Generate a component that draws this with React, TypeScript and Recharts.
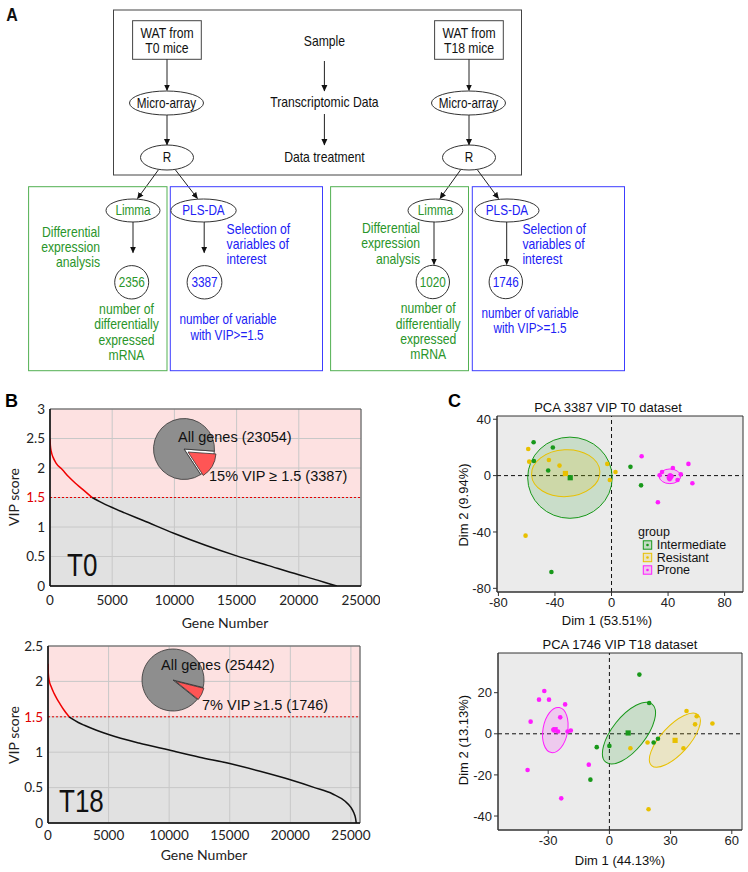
import React from "react"
import {
  LineChart, Line, XAxis, YAxis, CartesianGrid, ReferenceLine, ReferenceArea,
  PieChart, Pie, Cell, ScatterChart, Scatter,
} from "recharts"

// ---------- panel B : VIP score curves ----------
const geneTicks = [0, 5000, 10000, 15000, 20000, 25000]
const vipTicksT0 = [0, 0.5, 1, 1.5, 2, 2.5, 3]
const vipTicksT18 = [0, 0.5, 1, 1.5, 2, 2.5]

const t0Selected = [
  { gene: 0, vip: 2.5 }, { gene: 30, vip: 2.38 }, { gene: 100, vip: 2.28 }, { gene: 250, vip: 2.18 },
  { gene: 500, vip: 2.08 }, { gene: 1000, vip: 1.97 }, { gene: 1500, vip: 1.85 }, { gene: 2000, vip: 1.75 },
  { gene: 2500, vip: 1.66 }, { gene: 3000, vip: 1.57 }, { gene: 3387, vip: 1.5 },
]
const t0Rest = [
  { gene: 3387, vip: 1.5 }, { gene: 4000, vip: 1.43 }, { gene: 5000, vip: 1.33 }, { gene: 6000, vip: 1.24 },
  { gene: 7500, vip: 1.11 }, { gene: 10000, vip: 0.89 }, { gene: 12500, vip: 0.69 }, { gene: 15000, vip: 0.51 },
  { gene: 17500, vip: 0.35 }, { gene: 20000, vip: 0.19 }, { gene: 21500, vip: 0.1 }, { gene: 22500, vip: 0.035 },
  { gene: 23054, vip: 0 },
]
const t18Selected = [
  { gene: 0, vip: 2.25 }, { gene: 30, vip: 2.1 }, { gene: 100, vip: 2.01 }, { gene: 250, vip: 1.93 },
  { gene: 500, vip: 1.83 }, { gene: 750, vip: 1.75 }, { gene: 1000, vip: 1.68 }, { gene: 1300, vip: 1.6 },
  { gene: 1746, vip: 1.5 },
]
const t18Rest = [
  { gene: 1746, vip: 1.5 }, { gene: 2000, vip: 1.47 }, { gene: 2500, vip: 1.42 }, { gene: 3000, vip: 1.38 },
  { gene: 4000, vip: 1.31 }, { gene: 5000, vip: 1.25 }, { gene: 7500, vip: 1.13 }, { gene: 10000, vip: 1.03 },
  { gene: 12500, vip: 0.93 }, { gene: 15000, vip: 0.84 }, { gene: 17500, vip: 0.73 }, { gene: 20000, vip: 0.61 },
  { gene: 22000, vip: 0.5 }, { gene: 23500, vip: 0.41 }, { gene: 24500, vip: 0.31 }, { gene: 25000, vip: 0.22 },
  { gene: 25250, vip: 0.14 }, { gene: 25380, vip: 0.07 }, { gene: 25442, vip: 0 },
]
const pieT0 = [{ name: "VIP ≥ 1.5", value: 3387 }, { name: "other", value: 19667 }]
const pieT18 = [{ name: "VIP ≥ 1.5", value: 1746 }, { name: "other", value: 23696 }]

// ---------- panel C : PCA individuals ----------
const groups = ["Intermediate", "Resistant", "Prone"]

const intermediateT0 = [
  { x: -55.1, y: 23.7 }, { x: -41.5, y: 19.9 }, { x: -54.9, y: 10.4 }, { x: -44.8, y: 3.6 },
  { x: 13.4, y: 6.2 }, { x: 20.9, y: -6.9 }, { x: -42.5, y: -68.4 },
]
const resistantT0 = [
  { x: -58.9, y: 18.9 }, { x: -58.2, y: 9.9 }, { x: -44.3, y: 11.1 }, { x: -36.8, y: 7.1 },
  { x: -3.0, y: 8.3 }, { x: 2.8, y: 2.6 }, { x: -1.2, y: -3.1 }, { x: -60.8, y: -42.6 },
]
const proneT0 = [
  { x: 21.3, y: 13.7 }, { x: 54.4, y: 8.3 }, { x: 43.4, y: 5.4 }, { x: 35.7, y: 2.6 }, { x: 34.0, y: 0.2 },
  { x: 41.5, y: 0.2 }, { x: 49.0, y: 0.9 }, { x: 46.7, y: -3.1 }, { x: 41.1, y: -2.6 }, { x: 57.2, y: -5.4 },
  { x: 32.8, y: -18.9 }, { x: 40.5, y: -1.5 }, { x: 42.5, y: -0.5 },
]
const meansT0 = [{ x: -29.2, y: -1.5 }, { x: -32.6, y: 1.5 }, { x: 41.5, y: -0.8 }]
const ellipsesT0 = [
  { x: -29.4, y: -1.5, a: 29.9, b: 28.8, angle: 0 },
  { x: -32.4, y: 1.7, a: 24.2, b: 16.6, angle: 3 },
  { x: 41.3, y: -0.5, a: 7.6, b: 5.2, angle: 0 },
]

const intermediateT18 = [
  { x: 14.7, y: 28.8 }, { x: 19.5, y: 15.0 }, { x: -6.2, y: -6.5 }, { x: 0, y: -5.9 },
  { x: -9.3, y: -22.3 }, { x: 21.7, y: -4.2 }, { x: 23.8, y: -2.4 },
]
const resistantT18 = [
  { x: 37.8, y: 11.1 }, { x: 42.8, y: 8.5 }, { x: 42.0, y: 4.6 }, { x: 50.5, y: 5.0 },
  { x: 36.3, y: -7.0 }, { x: 10.3, y: -7.0 }, { x: 18.7, y: -4.2 }, { x: 19.2, y: -36.7 },
]
const proneT18 = [
  { x: -31.9, y: 20.8 }, { x: -34.5, y: 16.6 }, { x: -29.6, y: 16.6 }, { x: -21.7, y: 14.3 },
  { x: -38.6, y: 5.9 }, { x: -24.1, y: 8.0 }, { x: -27.5, y: 2.0 }, { x: -26.9, y: 1.6 },
  { x: -25.2, y: 1.1 }, { x: -20.5, y: 1.1 }, { x: -18.9, y: 1.6 }, { x: -40.1, y: -17.6 },
  { x: -10.1, y: -15.0 }, { x: -23.6, y: -31.4 },
]
const meansT18 = [{ x: 9.2, y: 0.4 }, { x: 32.2, y: -3.2 }, { x: -26.6, y: 2.0 }]
const ellipsesT18 = [
  { x: 9.6, y: 0.3, a: 18.2, b: 8.1, angle: 51.5 },
  { x: 32.1, y: -3.1, a: 16.9, b: 6.8, angle: 47.4 },
  { x: -26.5, y: 1.8, a: 11.2, b: 6.0, angle: 80 },
]

const pcaT0 = { x: [-80, -40, 0, 40, 80], y: [-80, -40, 0, 40] }
const pcaT18 = { x: [-30, 0, 30, 60], y: [-40, -20, 0, 20] }

// ---------- styles ----------
const ARIAL = "'Liberation Sans', Arial, sans-serif"
const LATO = "Lato, 'Open Sans', sans-serif"
const PINK = "#fde1e1"
const GREYBG = "#e1e1e1"
const GROUP_COLORS = ["#18981a", "#e8c000", "#ff1cff"]
const GREEN_T = "#2a952a"
const GREEN_B = "#52b052"
const BLUE_T = "#2020f5"
const BLUE_B = "#3c3cff"

// narrow text (Arial Narrow look)
function NT({ x, y, children, anchor = "middle", color = "#111", size = 14.5, bold = false }: any) {
  return (
    <text transform={`translate(${x},${y}) scale(0.84,1)`} textAnchor={anchor} dominantBaseline="central"
      fontFamily={ARIAL} fontSize={size} fontWeight={bold ? 700 : 400} fill={color}>{children}</text>
  )
}
function Arrow({ x1, y1, x2, y2 }: any) {
  return <line x1={x1} y1={y1} x2={x2} y2={y2} stroke="#222" strokeWidth={1} markerEnd="url(#ah)" />
}
function Oval({ cx, cy, rx, ry, label, color }: any) {
  return (
    <g>
      <ellipse cx={cx} cy={cy} rx={rx} ry={ry} fill="#fff" stroke="#333" strokeWidth={1} />
      <NT x={cx} y={cy} color={color} size={14}>{label}</NT>
    </g>
  )
}

function PanelA() {
  return (
    <g>
      <defs>
        <marker id="ah" markerWidth="7" markerHeight="7" refX="6" refY="3.5" orient="auto" markerUnits="userSpaceOnUse">
          <path d="M0,0.5 L6.5,3.5 L0,6.5 z" fill="#111" />
        </marker>
      </defs>
      <NT x={12} y={15} size={19} bold>A</NT>
      <rect x={113.5} y={10} width={408} height={165} fill="none" stroke="#444" />
      <rect x={132.6} y={20.7} width={68.7} height={38.6} fill="#fff" stroke="#444" />
      <NT x={167} y={33}>WAT from</NT>
      <NT x={167} y={48}>T0 mice</NT>
      <rect x={434.6} y={20.7} width={68.7} height={38.6} fill="#fff" stroke="#444" />
      <NT x={469} y={33}>WAT from</NT>
      <NT x={469} y={48}>T18 mice</NT>
      <NT x={324.4} y={40.7}>Sample</NT>
      <NT x={324.4} y={101.7}>Transcriptomic Data</NT>
      <NT x={324.4} y={157.3}>Data treatment</NT>
      <Arrow x1={324.4} y1={61} x2={324.4} y2={91} />
      <Arrow x1={324.4} y1={114} x2={324.4} y2={145} />
      {[167, 469].map((cx) => (
        <g key={cx}>
          <Arrow x1={cx} y1={59.3} x2={cx} y2={90.5} />
          <Oval cx={cx - 0.5} cy={103} rx={37} ry={12} label="Micro-array" color="#111" />
          <Arrow x1={cx} y1={115} x2={cx} y2={145} />
          <Oval cx={cx} cy={157.5} rx={26.5} ry={12.5} label="R" color="#111" />
        </g>
      ))}
      <Arrow x1={158.3} y1={170} x2={137.5} y2={198.5} />
      <Arrow x1={175.5} y1={170} x2={197.5} y2={198.5} />
      <Arrow x1={460.5} y1={170} x2={440} y2={198.5} />
      <Arrow x1={477.5} y1={170} x2={498.5} y2={198.5} />

      <rect x={28.6} y={186.7} width={138.4} height={184} fill="none" stroke={GREEN_B} />
      <rect x={170.3} y={186.7} width={152.2} height={184} fill="none" stroke={BLUE_B} />
      <rect x={330.6} y={186.7} width={137.9} height={184} fill="none" stroke={GREEN_B} />
      <rect x={472.3} y={186.7} width={152.2} height={184} fill="none" stroke={BLUE_B} />

      <Oval cx={133} cy={210.5} rx={27} ry={11.5} label="Limma" color={GREEN_T} />
      <Oval cx={203.5} cy={210.5} rx={32.7} ry={11.5} label="PLS-DA" color={BLUE_T} />
      <Oval cx={435.4} cy={210.5} rx={27.4} ry={11.5} label="Limma" color={GREEN_T} />
      <Oval cx={507} cy={210.5} rx={32} ry={11.5} label="PLS-DA" color={BLUE_T} />

      <Arrow x1={133} y1={222} x2={133} y2={252.7} />
      <Arrow x1={204.2} y1={222} x2={204.2} y2={252.7} />
      <Arrow x1={434} y1={222} x2={434} y2={264.5} />
      <Arrow x1={506.7} y1={222} x2={506.7} y2={264.5} />

      <Oval cx={131.7} cy={282.3} rx={17} ry={16.7} label="2356" color={GREEN_T} />
      <Oval cx={204.5} cy={282.3} rx={17.4} ry={16.7} label="3387" color={BLUE_T} />
      <Oval cx={432.8} cy={282} rx={16.7} ry={16.7} label="1020" color={GREEN_T} />
      <Oval cx={505.8} cy={282} rx={16.7} ry={16.7} label="1746" color={BLUE_T} />

      {[["Differential", 232], ["expression", 247], ["analysis", 262]].map(([t, y]) => (
        <NT key={"l" + t} x={100} y={y} anchor="end" color={GREEN_T}>{t}</NT>
      ))}
      {[["Differential", 228], ["expression", 243.3], ["analysis", 258.7]].map(([t, y]) => (
        <NT key={"r" + t} x={420} y={y} anchor="end" color={GREEN_T}>{t}</NT>
      ))}
      {[["Selection of", 229.3], ["variables of", 244.3], ["interest", 259.3]].map(([t, y]) => (
        <g key={"s" + t}>
          <NT x={226.6} y={y} anchor="start" color={BLUE_T}>{t}</NT>
          <NT x={522.4} y={y} anchor="start" color={BLUE_T}>{t}</NT>
        </g>
      ))}
      {[["number of", 309], ["differentially", 324.6], ["expressed", 340], ["mRNA", 355]].map(([t, y]: any) => (
        <g key={"n" + t}>
          <NT x={126.5} y={y} color={GREEN_T}>{t}</NT>
          <NT x={428.2} y={y - 0.7} color={GREEN_T}>{t}</NT>
        </g>
      ))}
      <NT x={228} y={319} color={BLUE_T} size={14}>number of variable</NT>
      <NT x={227} y={335} color={BLUE_T} size={14}>{"with VIP>=1.5"}</NT>
      <NT x={530} y={313} color={BLUE_T} size={14}>number of variable</NT>
      <NT x={530} y={328} color={BLUE_T} size={14}>{"with VIP>=1.5"}</NT>
    </g>
  )
}

function VipTick(props: any) {
  const { x, y, payload } = props
  return (
    <text x={x} y={y} dy="0.35em" textAnchor="end" fontSize={13.5} fontFamily={LATO}
      fill={payload.value === 1.5 ? "#e00000" : "#222"}>{payload.value}</text>
  )
}

function VipChart({ selected, rest, yTicks, xMax, width, height, margin, yWidth, xHeight, xTickMargin }: any) {
  const yMax = yTicks[yTicks.length - 1]
  const stripes = yTicks.slice().reverse().map((t: number) => (t > 1.5 ? PINK : GREYBG))
  return (
    <LineChart width={width} height={height} margin={margin}>
      <CartesianGrid stroke="#c8c8c8" horizontalFill={stripes} fillOpacity={1} />
      <XAxis type="number" dataKey="gene" domain={[0, xMax]} ticks={geneTicks} interval={0} allowDataOverflow
        tickSize={0} tickMargin={xTickMargin} height={xHeight} axisLine={{ stroke: "#111", strokeWidth: 1.3 }}
        tick={{ fontSize: 13.5, fontFamily: LATO, fill: "#222" }} />
      <YAxis type="number" domain={[0, yMax]} ticks={yTicks} interval={0} allowDataOverflow width={yWidth}
        tickSize={0} tickMargin={5} axisLine={{ stroke: "#111", strokeWidth: 1.5 }} tick={<VipTick />} />
      <ReferenceArea x1={0} x2={xMax} y1={0} y2={yMax} fill="none" stroke="#555" strokeWidth={1} />
      <ReferenceLine y={1.5} stroke="#e60000" strokeDasharray="2 2" strokeWidth={1} />
      <Line data={rest} dataKey="vip" type="monotone" stroke="#111" strokeWidth={1.5} dot={false} isAnimationActive={false} />
      <Line data={selected} dataKey="vip" type="monotone" stroke="#f00000" strokeWidth={1.5} dot={false} isAnimationActive={false} />
    </LineChart>
  )
}

function VipPie({ data, left, top, start, dx, dy, rOuter, rRed }: any) {
  return (
    <div style={{ position: "absolute", left, top }}>
      <PieChart width={80} height={80} margin={{ top: 0, right: 0, bottom: 0, left: 0 }}>
        <Pie data={data} dataKey="value" cx={40} cy={40} outerRadius={rOuter} startAngle={start} endAngle={start - 360}
          isAnimationActive={false} label={false} labelLine={false} stroke="#333" strokeWidth={0.8}>
          <Cell fill="#ffffff" />
          <Cell fill="#8e8e8e" />
        </Pie>
        <Pie data={data} dataKey="value" cx={40 + dx} cy={40 + dy} outerRadius={rRed} startAngle={start} endAngle={start - 360}
          isAnimationActive={false} label={false} labelLine={false} strokeWidth={0.8}>
          <Cell fill="#ff5555" stroke="#333" />
          <Cell fill="none" stroke="none" />
        </Pie>
      </PieChart>
    </div>
  )
}

function ellipseShape(color: string, px: number, py: number) {
  return (props: any) => {
    const { cx, cy, payload } = props
    return (
      <ellipse cx={cx} cy={cy} rx={payload.a * px} ry={payload.b * py}
        transform={`rotate(${-payload.angle} ${cx} ${cy})`}
        fill={color} fillOpacity={0.16} stroke={color} strokeWidth={1} />
    )
  }
}
function dotShape(color: string) {
  return (props: any) => <circle cx={props.cx} cy={props.cy} r={2.3} fill={color} />
}
function squareShape(color: string) {
  return (props: any) => <rect x={props.cx - 2.6} y={props.cy - 2.6} width={5.2} height={5.2} fill={color} />
}

function PcaChart({ series, means, ellipses, ticks, xDomain, yDomain, width, height, margin, yWidth, xHeight }: any) {
  const plotW = width - margin.left - margin.right - yWidth
  const plotH = height - margin.top - margin.bottom - xHeight
  const px = plotW / (xDomain[1] - xDomain[0])
  const py = plotH / (yDomain[1] - yDomain[0])
  const tick = { fontSize: 13, fontFamily: ARIAL, fill: "#222" }
  return (
    <ScatterChart width={width} height={height} margin={margin}>
      <CartesianGrid fill="#ebebeb" horizontal={false} vertical={false} />
      <XAxis type="number" dataKey="x" domain={xDomain} ticks={ticks.x} interval={0} allowDataOverflow height={xHeight}
        tickSize={4} tickMargin={2} tick={tick} axisLine={{ stroke: "#333" }} tickLine={{ stroke: "#333" }} />
      <YAxis type="number" dataKey="y" domain={yDomain} ticks={ticks.y} interval={0} allowDataOverflow width={yWidth}
        tickSize={4} tickMargin={2} tick={tick} axisLine={{ stroke: "#333" }} tickLine={{ stroke: "#333" }} />
      <ReferenceArea x1={xDomain[0]} x2={xDomain[1]} y1={yDomain[0]} y2={yDomain[1]} fill="none" stroke="#333" />
      {ellipses.map((e: any, i: number) => (
        <Scatter key={"e" + i} data={[e]} shape={ellipseShape(GROUP_COLORS[i], px, py)} isAnimationActive={false} />
      ))}
      <ReferenceLine x={0} stroke="#111" strokeDasharray="4 3" />
      <ReferenceLine y={0} stroke="#111" strokeDasharray="4 3" />
      {series.map((s: any, i: number) => (
        <Scatter key={"s" + i} name={groups[i]} data={s} shape={dotShape(GROUP_COLORS[i])} isAnimationActive={false} />
      ))}
      {means.map((m: any, i: number) => (
        <Scatter key={"m" + i} data={[m]} shape={squareShape(GROUP_COLORS[i])} isAnimationActive={false} />
      ))}
    </ScatterChart>
  )
}

export default function App() {
  return (
    <div style={{ position: "absolute", left: 0, top: 0, width: 748, height: 872, background: "#fff", overflow: "hidden" }}>
      <div style={{ position: "absolute", left: 0, top: 390 }}>
        <VipChart selected={t0Selected} rest={t0Rest} yTicks={vipTicksT0} xMax={25000} width={380} height={250}
          margin={{ top: 19, right: 19, bottom: 10, left: 0 }} yWidth={50} xHeight={44} xTickMargin={9} />
      </div>
      <div style={{ position: "absolute", left: 0, top: 630 }}>
        <VipChart selected={t18Selected} rest={t18Rest} yTicks={vipTicksT18} xMax={25750} width={380} height={242}
          margin={{ top: 16, right: 20, bottom: 10, left: 0 }} yWidth={48} xHeight={39} xTickMargin={7} />
      </div>
      <VipPie data={pieT0} left={144} top={409} start={-4} dx={4} dy={3} rOuter={30.5} rRed={28} />
      <VipPie data={pieT18} left={132.5} top={640} start={-14} dx={2.7} dy={1.3} rOuter={31} rRed={29} />

      <div style={{ position: "absolute", left: 380, top: 390 }}>
        <PcaChart series={[intermediateT0, resistantT0, proneT0]} means={meansT0} ellipses={ellipsesT0} ticks={pcaT0}
          xDomain={[-81, 93]} yDomain={[-82.6, 42.3]} width={368} height={240}
          margin={{ top: 26, right: 5, bottom: 8, left: 0 }} yWidth={117} xHeight={30} />
      </div>
      <div style={{ position: "absolute", left: 380, top: 630 }}>
        <PcaChart series={[intermediateT18, resistantT18, proneT18]} means={meansT18} ellipses={ellipsesT18} ticks={pcaT18}
          xDomain={[-54.6, 65]} yDomain={[-46.8, 39.3]} width={368} height={242}
          margin={{ top: 23, right: 6, bottom: 10, left: 0 }} yWidth={118} xHeight={32} />
      </div>

      <svg width={748} height={872} style={{ position: "absolute", left: 0, top: 0, pointerEvents: "none" }}>
        <PanelA />
        {/* panel B texts */}
        <text x={5} y={401} dominantBaseline="central" fontFamily={ARIAL} fontSize={18} fontWeight={700}>B</text>
        <text x={448} y={401} dominantBaseline="central" fontFamily={ARIAL} fontSize={18} fontWeight={700}>C</text>
        <text transform="translate(13,497) rotate(-90)" textAnchor="middle" dominantBaseline="central" fontFamily={LATO} fontSize={14} fill="#222">VIP score</text>
        <text transform="translate(13,735) rotate(-90)" textAnchor="middle" dominantBaseline="central" fontFamily={LATO} fontSize={14} fill="#222">VIP score</text>
        <text x={225} y={622} textAnchor="middle" dominantBaseline="central" fontFamily={LATO} fontSize={14} fill="#222">Gene Number</text>
        <text x={204} y={854} textAnchor="middle" dominantBaseline="central" fontFamily={LATO} fontSize={14} fill="#222">Gene Number</text>
        <NT x={67} y={565} anchor="start" size={31}>T0</NT>
        <NT x={59} y={801} anchor="start" size={31}>T18</NT>
        <text x={178} y={437} dominantBaseline="central" fontFamily={ARIAL} fontSize={14.5} fill="#111">All genes (23054)</text>
        <text x={209} y={476} dominantBaseline="central" fontFamily={ARIAL} fontSize={14.5} fill="#111">15% VIP ≥ 1.5 (3387)</text>
        <text x={161} y={665} dominantBaseline="central" fontFamily={ARIAL} fontSize={14.5} fill="#111">All genes (25442)</text>
        <text x={202} y={705} dominantBaseline="central" fontFamily={ARIAL} fontSize={14.5} fill="#111">7% VIP ≥1.5 (1746)</text>
        {/* panel C texts */}
        <text x={608} y={407} textAnchor="middle" dominantBaseline="central" fontFamily={ARIAL} fontSize={13} fill="#111">PCA 3387 VIP T0 dataset</text>
        <text x={607} y={620} textAnchor="middle" dominantBaseline="central" fontFamily={ARIAL} fontSize={13} fill="#111">Dim 1 (53.51%)</text>
        <text transform="translate(463,505) rotate(-90)" textAnchor="middle" dominantBaseline="central" fontFamily={ARIAL} fontSize={13} fill="#111">Dim 2 (9.94%)</text>
        <text x={620} y={644} textAnchor="middle" dominantBaseline="central" fontFamily={ARIAL} fontSize={13} fill="#111">PCA 1746 VIP T18 dataset</text>
        <text x={620} y={860} textAnchor="middle" dominantBaseline="central" fontFamily={ARIAL} fontSize={13} fill="#111">Dim 1 (44.13%)</text>
        <text transform="translate(463,740) rotate(-90)" textAnchor="middle" dominantBaseline="central" fontFamily={ARIAL} fontSize={13} fill="#111">Dim 2 (13.13%)</text>
        {/* legend */}
        <text x={638} y={531.7} dominantBaseline="central" fontFamily={ARIAL} fontSize={12.5} fill="#111">group</text>
        {groups.map((g, i) => {
          const cy = 545 + i * 12.5
          return (
            <g key={g}>
              <rect x={643.3} y={cy - 4.2} width={8.4} height={8.4} fill={GROUP_COLORS[i]} fillOpacity={0.18} stroke={GROUP_COLORS[i]} />
              <circle cx={647.5} cy={cy} r={1.3} fill={GROUP_COLORS[i]} />
              <text x={656.7} y={cy} dominantBaseline="central" fontFamily={ARIAL} fontSize={12.5} fill="#111">{g}</text>
            </g>
          )
        })}
      </svg>
    </div>
  )
}
